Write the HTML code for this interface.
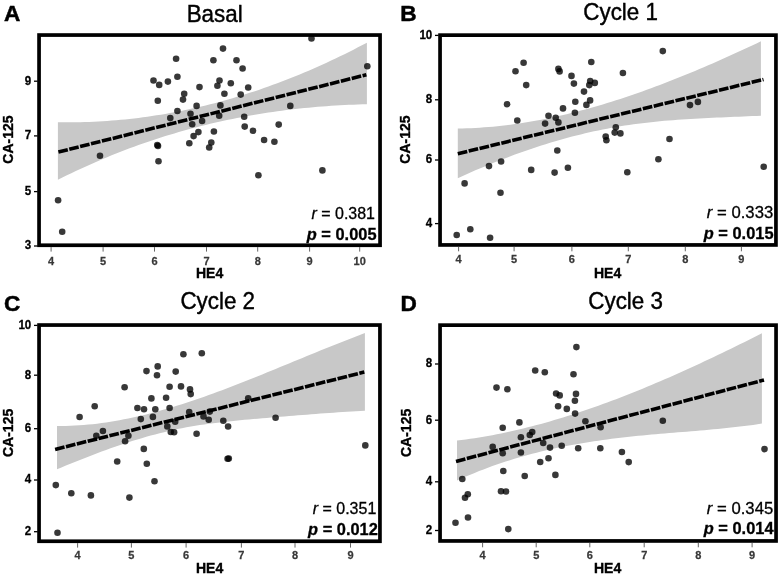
<!DOCTYPE html>
<html><head><meta charset="utf-8"><title>CA-125 vs HE4</title><style>
html,body{margin:0;padding:0;background:#fff;}
svg{display:block;filter:grayscale(100%);}
text{font-family:"Liberation Sans",sans-serif;}
.yt{font-size:11.6px;font-weight:bold;fill:#000;text-anchor:end;stroke:#000;stroke-width:0.25px;}
.xt{font-size:11px;font-weight:bold;fill:#383838;text-anchor:middle;stroke:#383838;stroke-width:0.25px;}
.yl{font-size:14px;font-weight:bold;fill:#000;text-anchor:middle;stroke:#000;stroke-width:0.35px;}
.xl{font-size:14px;font-weight:bold;fill:#000;text-anchor:middle;stroke:#000;stroke-width:0.35px;}
.ti{font-size:22.4px;fill:#000;text-anchor:middle;stroke:#000;stroke-width:0.4px;}
.le{font-size:22.6px;font-weight:bold;fill:#000;stroke:#000;stroke-width:0.5px;}
.rp{font-size:16px;fill:#000;text-anchor:end;stroke:#000;stroke-width:0.3px;}
</style></head>
<body><svg width="780" height="575" viewBox="0 0 780 575">
<rect width="780" height="575" fill="#fff"/>
<path d="M57.90,122.13 L62.38,122.20 L66.86,122.24 L71.33,122.24 L75.81,122.20 L80.29,122.13 L84.77,122.03 L89.25,121.88 L93.73,121.70 L98.20,121.48 L102.68,121.23 L107.16,120.94 L111.64,120.61 L116.12,120.25 L120.60,119.85 L125.07,119.42 L129.55,118.95 L134.03,118.44 L138.51,117.90 L142.99,117.32 L147.47,116.70 L151.94,116.05 L156.42,115.36 L160.90,114.64 L165.38,113.88 L169.86,113.08 L174.33,112.25 L178.81,111.38 L183.29,110.48 L187.77,109.54 L192.25,108.56 L196.73,107.55 L201.20,106.50 L205.68,105.42 L210.16,104.30 L214.64,103.15 L219.12,101.95 L223.60,100.73 L228.07,99.46 L232.55,98.17 L237.03,96.83 L241.51,95.46 L245.99,94.06 L250.47,92.62 L254.94,91.14 L259.42,89.63 L263.90,88.08 L268.38,86.49 L272.86,84.87 L277.33,83.22 L281.81,81.53 L286.29,79.80 L290.77,78.04 L295.25,76.24 L299.73,74.41 L304.20,72.54 L308.68,70.64 L313.16,68.70 L317.64,66.73 L322.12,64.72 L326.60,62.67 L331.07,60.59 L335.55,58.48 L340.03,56.33 L344.51,54.14 L348.99,51.92 L353.47,49.66 L357.94,47.37 L362.42,45.04 L366.90,42.68 L366.90,104.23 L362.42,104.34 L357.94,104.48 L353.47,104.64 L348.99,104.83 L344.51,105.04 L340.03,105.28 L335.55,105.54 L331.07,105.82 L326.60,106.13 L322.12,106.47 L317.64,106.83 L313.16,107.22 L308.68,107.63 L304.20,108.07 L299.73,108.54 L295.25,109.03 L290.77,109.56 L286.29,110.10 L281.81,110.68 L277.33,111.28 L272.86,111.92 L268.38,112.58 L263.90,113.27 L259.42,113.98 L254.94,114.73 L250.47,115.51 L245.99,116.31 L241.51,117.15 L237.03,118.01 L232.55,118.91 L228.07,119.83 L223.60,120.79 L219.12,121.78 L214.64,122.79 L210.16,123.84 L205.68,124.93 L201.20,126.04 L196.73,127.18 L192.25,128.36 L187.77,129.57 L183.29,130.81 L178.81,132.09 L174.33,133.40 L169.86,134.74 L165.38,136.12 L160.90,137.52 L156.42,138.97 L151.94,140.45 L147.47,141.96 L142.99,143.51 L138.51,145.09 L134.03,146.71 L129.55,148.36 L125.07,150.05 L120.60,151.78 L116.12,153.54 L111.64,155.34 L107.16,157.17 L102.68,159.04 L98.20,160.95 L93.73,162.90 L89.25,164.88 L84.77,166.90 L80.29,168.96 L75.81,171.06 L71.33,173.20 L66.86,175.37 L62.38,177.59 L57.90,179.84 Z" fill="#c8c8c8"/>
<circle cx="176.1" cy="58.8" r="3.3" fill="#000" fill-opacity="0.78"/>
<circle cx="223.0" cy="48.6" r="3.3" fill="#000" fill-opacity="0.78"/>
<circle cx="213.4" cy="60.2" r="3.3" fill="#000" fill-opacity="0.78"/>
<circle cx="236.5" cy="60.2" r="3.3" fill="#000" fill-opacity="0.78"/>
<circle cx="242.6" cy="68.5" r="3.3" fill="#000" fill-opacity="0.78"/>
<circle cx="153.5" cy="80.5" r="3.3" fill="#000" fill-opacity="0.78"/>
<circle cx="159.2" cy="84.9" r="3.3" fill="#000" fill-opacity="0.78"/>
<circle cx="167.9" cy="81.6" r="3.3" fill="#000" fill-opacity="0.78"/>
<circle cx="177.4" cy="76.7" r="3.3" fill="#000" fill-opacity="0.78"/>
<circle cx="219.5" cy="80.5" r="3.3" fill="#000" fill-opacity="0.78"/>
<circle cx="217.4" cy="85.7" r="3.3" fill="#000" fill-opacity="0.78"/>
<circle cx="230.8" cy="83.3" r="3.3" fill="#000" fill-opacity="0.78"/>
<circle cx="199.5" cy="87.1" r="3.3" fill="#000" fill-opacity="0.78"/>
<circle cx="248.2" cy="87.5" r="3.3" fill="#000" fill-opacity="0.78"/>
<circle cx="184.2" cy="93.7" r="3.3" fill="#000" fill-opacity="0.78"/>
<circle cx="183.0" cy="99.6" r="3.3" fill="#000" fill-opacity="0.78"/>
<circle cx="157.8" cy="100.7" r="3.3" fill="#000" fill-opacity="0.78"/>
<circle cx="224.4" cy="93.7" r="3.3" fill="#000" fill-opacity="0.78"/>
<circle cx="240.7" cy="94.6" r="3.3" fill="#000" fill-opacity="0.78"/>
<circle cx="196.6" cy="105.9" r="3.3" fill="#000" fill-opacity="0.78"/>
<circle cx="220.4" cy="105.4" r="3.3" fill="#000" fill-opacity="0.78"/>
<circle cx="177.4" cy="111.0" r="3.3" fill="#000" fill-opacity="0.78"/>
<circle cx="190.5" cy="113.7" r="3.3" fill="#000" fill-opacity="0.78"/>
<circle cx="170.3" cy="118.1" r="3.3" fill="#000" fill-opacity="0.78"/>
<circle cx="219.2" cy="115.8" r="3.3" fill="#000" fill-opacity="0.78"/>
<circle cx="202.1" cy="121.0" r="3.3" fill="#000" fill-opacity="0.78"/>
<circle cx="192.2" cy="124.2" r="3.3" fill="#000" fill-opacity="0.78"/>
<circle cx="244.2" cy="116.7" r="3.3" fill="#000" fill-opacity="0.78"/>
<circle cx="244.7" cy="126.6" r="3.3" fill="#000" fill-opacity="0.78"/>
<circle cx="253.0" cy="130.8" r="3.3" fill="#000" fill-opacity="0.78"/>
<circle cx="198.4" cy="132.1" r="3.3" fill="#000" fill-opacity="0.78"/>
<circle cx="213.9" cy="131.5" r="3.3" fill="#000" fill-opacity="0.78"/>
<circle cx="193.6" cy="136.1" r="3.3" fill="#000" fill-opacity="0.78"/>
<circle cx="189.3" cy="143.2" r="3.3" fill="#000" fill-opacity="0.78"/>
<circle cx="211.3" cy="142.5" r="3.3" fill="#000" fill-opacity="0.78"/>
<circle cx="209.2" cy="147.5" r="3.3" fill="#000" fill-opacity="0.78"/>
<circle cx="264.1" cy="140.0" r="3.3" fill="#000" fill-opacity="0.78"/>
<circle cx="274.4" cy="141.7" r="3.3" fill="#000" fill-opacity="0.78"/>
<circle cx="278.7" cy="124.6" r="3.3" fill="#000" fill-opacity="0.78"/>
<circle cx="258.4" cy="175.2" r="3.3" fill="#000" fill-opacity="0.78"/>
<circle cx="311.5" cy="38.5" r="3.3" fill="#000" fill-opacity="0.78"/>
<circle cx="367.3" cy="66.3" r="3.3" fill="#000" fill-opacity="0.78"/>
<circle cx="290.3" cy="105.9" r="3.3" fill="#000" fill-opacity="0.78"/>
<circle cx="322.4" cy="170.4" r="3.3" fill="#000" fill-opacity="0.78"/>
<circle cx="100.0" cy="155.7" r="3.3" fill="#000" fill-opacity="0.78"/>
<circle cx="157.3" cy="145.0" r="3.3" fill="#000" fill-opacity="0.78"/>
<circle cx="158.0" cy="146.0" r="3.3" fill="#000" fill-opacity="0.78"/>
<circle cx="158.5" cy="161.2" r="3.3" fill="#000" fill-opacity="0.78"/>
<circle cx="58.1" cy="200.2" r="3.3" fill="#000" fill-opacity="0.78"/>
<circle cx="62.2" cy="231.7" r="3.3" fill="#000" fill-opacity="0.78"/>
<line x1="58.4" y1="152.0" x2="366.4" y2="74.8" stroke="#000" stroke-width="3.6" stroke-dasharray="9.7,1.5" stroke-dashoffset="0"/>
<rect x="39.05" y="35.05" width="341.00" height="210.20" fill="none" stroke="#000" stroke-width="3.7"/>
<line x1="34.00" y1="81.2" x2="37.70" y2="81.2" stroke="#000" stroke-width="1.3"/>
<text transform="translate(31.30,84.60) scale(1,1.04)" class="yt">9</text>
<line x1="34.00" y1="135.9" x2="37.70" y2="135.9" stroke="#000" stroke-width="1.3"/>
<text transform="translate(31.30,139.30) scale(1,1.04)" class="yt">7</text>
<line x1="34.00" y1="191.6" x2="37.70" y2="191.6" stroke="#000" stroke-width="1.3"/>
<text transform="translate(31.30,195.00) scale(1,1.04)" class="yt">5</text>
<line x1="34.00" y1="246.0" x2="37.70" y2="246.0" stroke="#000" stroke-width="1.3"/>
<text transform="translate(31.30,249.40) scale(1,1.04)" class="yt">3</text>
<line x1="51.1" y1="247.10" x2="51.1" y2="251.60" stroke="#555" stroke-width="0.9"/>
<text transform="translate(51.10,264.70) scale(1,1.04)" class="xt">4</text>
<line x1="103.1" y1="247.10" x2="103.1" y2="251.60" stroke="#555" stroke-width="0.9"/>
<text transform="translate(103.10,264.70) scale(1,1.04)" class="xt">5</text>
<line x1="154.5" y1="247.10" x2="154.5" y2="251.60" stroke="#555" stroke-width="0.9"/>
<text transform="translate(154.50,264.70) scale(1,1.04)" class="xt">6</text>
<line x1="206.5" y1="247.10" x2="206.5" y2="251.60" stroke="#555" stroke-width="0.9"/>
<text transform="translate(206.50,264.70) scale(1,1.04)" class="xt">7</text>
<line x1="257.7" y1="247.10" x2="257.7" y2="251.60" stroke="#555" stroke-width="0.9"/>
<text transform="translate(257.70,264.70) scale(1,1.04)" class="xt">8</text>
<line x1="309.6" y1="247.10" x2="309.6" y2="251.60" stroke="#555" stroke-width="0.9"/>
<text transform="translate(309.60,264.70) scale(1,1.04)" class="xt">9</text>
<line x1="359.7" y1="247.10" x2="359.7" y2="251.60" stroke="#555" stroke-width="0.9"/>
<text transform="translate(359.70,264.70) scale(1,1.04)" class="xt">10</text>
<text transform="translate(12.80,139.60) rotate(-90) scale(1,1.08)" class="yl">CA-125</text>
<text transform="translate(209.60,277.90) scale(1,1.04)" class="xl">HE4</text>
<text transform="translate(214.70,21.70) scale(1,1.04)" class="ti">Basal</text>
<text transform="translate(3.90,21.20) scale(1,1.0)" class="le">A</text>
<text transform="translate(375.00,219.40) scale(1,1.035)" class="rp" style="font-size:16px"><tspan font-style="italic">r</tspan> = 0.381</text>
<text transform="translate(376.50,240.40) scale(1,1.035)" class="rp" style="font-weight:bold;font-size:16.4px"><tspan font-style="italic">p</tspan> = 0.005</text>
<path d="M457.80,128.55 L462.19,128.47 L466.59,128.34 L470.98,128.16 L475.37,127.94 L479.76,127.68 L484.16,127.37 L488.55,127.03 L492.94,126.63 L497.33,126.20 L501.73,125.72 L506.12,125.21 L510.51,124.65 L514.91,124.05 L519.30,123.42 L523.69,122.74 L528.08,122.02 L532.48,121.27 L536.87,120.48 L541.26,119.65 L545.66,118.79 L550.05,117.89 L554.44,116.95 L558.83,115.98 L563.23,114.97 L567.62,113.93 L572.01,112.85 L576.40,111.75 L580.80,110.60 L585.19,109.43 L589.58,108.22 L593.98,106.99 L598.37,105.72 L602.76,104.42 L607.15,103.09 L611.55,101.73 L615.94,100.34 L620.33,98.93 L624.72,97.48 L629.12,96.01 L633.51,94.51 L637.90,92.98 L642.30,91.43 L646.69,89.85 L651.08,88.25 L655.47,86.62 L659.87,84.97 L664.26,83.29 L668.65,81.59 L673.04,79.87 L677.44,78.12 L681.83,76.35 L686.22,74.57 L690.62,72.76 L695.01,70.93 L699.40,69.07 L703.79,67.20 L708.19,65.32 L712.58,63.41 L716.97,61.48 L721.37,59.54 L725.76,57.58 L730.15,55.60 L734.54,53.61 L738.94,51.60 L743.33,49.58 L747.72,47.54 L752.11,45.48 L756.51,43.42 L760.90,41.34 L760.90,115.73 L756.51,115.93 L752.11,116.12 L747.72,116.30 L743.33,116.49 L738.94,116.67 L734.54,116.85 L730.15,117.03 L725.76,117.21 L721.37,117.40 L716.97,117.59 L712.58,117.79 L708.19,118.00 L703.79,118.21 L699.40,118.44 L695.01,118.68 L690.62,118.94 L686.22,119.21 L681.83,119.50 L677.44,119.81 L673.04,120.14 L668.65,120.50 L664.26,120.87 L659.87,121.27 L655.47,121.70 L651.08,122.16 L646.69,122.65 L642.30,123.17 L637.90,123.72 L633.51,124.31 L629.12,124.93 L624.72,125.59 L620.33,126.29 L615.94,127.03 L611.55,127.81 L607.15,128.63 L602.76,129.50 L598.37,130.40 L593.98,131.34 L589.58,132.32 L585.19,133.34 L580.80,134.39 L576.40,135.49 L572.01,136.62 L567.62,137.79 L563.23,139.00 L558.83,140.24 L554.44,141.52 L550.05,142.83 L545.66,144.18 L541.26,145.57 L536.87,146.99 L532.48,148.44 L528.08,149.93 L523.69,151.46 L519.30,153.01 L514.91,154.60 L510.51,156.23 L506.12,157.88 L501.73,159.57 L497.33,161.29 L492.94,163.04 L488.55,164.82 L484.16,166.63 L479.76,168.48 L475.37,170.35 L470.98,172.25 L466.59,174.18 L462.19,176.15 L457.80,178.14 Z" fill="#c8c8c8"/>
<circle cx="523.6" cy="62.7" r="3.3" fill="#000" fill-opacity="0.78"/>
<circle cx="515.5" cy="71.2" r="3.3" fill="#000" fill-opacity="0.78"/>
<circle cx="526.2" cy="85.1" r="3.3" fill="#000" fill-opacity="0.78"/>
<circle cx="558.4" cy="68.9" r="3.3" fill="#000" fill-opacity="0.78"/>
<circle cx="559.6" cy="71.4" r="3.3" fill="#000" fill-opacity="0.78"/>
<circle cx="507.1" cy="104.2" r="3.3" fill="#000" fill-opacity="0.78"/>
<circle cx="517.3" cy="120.5" r="3.3" fill="#000" fill-opacity="0.78"/>
<circle cx="563.0" cy="108.4" r="3.3" fill="#000" fill-opacity="0.78"/>
<circle cx="548.5" cy="115.8" r="3.3" fill="#000" fill-opacity="0.78"/>
<circle cx="555.7" cy="117.8" r="3.3" fill="#000" fill-opacity="0.78"/>
<circle cx="558.4" cy="122.4" r="3.3" fill="#000" fill-opacity="0.78"/>
<circle cx="545.1" cy="123.6" r="3.3" fill="#000" fill-opacity="0.78"/>
<circle cx="662.8" cy="51.1" r="3.3" fill="#000" fill-opacity="0.78"/>
<circle cx="591.3" cy="62.0" r="3.3" fill="#000" fill-opacity="0.78"/>
<circle cx="622.9" cy="73.0" r="3.3" fill="#000" fill-opacity="0.78"/>
<circle cx="571.5" cy="75.9" r="3.3" fill="#000" fill-opacity="0.78"/>
<circle cx="573.9" cy="83.6" r="3.3" fill="#000" fill-opacity="0.78"/>
<circle cx="590.2" cy="81.0" r="3.3" fill="#000" fill-opacity="0.78"/>
<circle cx="594.8" cy="82.9" r="3.3" fill="#000" fill-opacity="0.78"/>
<circle cx="589.3" cy="85.1" r="3.3" fill="#000" fill-opacity="0.78"/>
<circle cx="584.0" cy="91.6" r="3.3" fill="#000" fill-opacity="0.78"/>
<circle cx="575.3" cy="101.8" r="3.3" fill="#000" fill-opacity="0.78"/>
<circle cx="590.1" cy="100.4" r="3.3" fill="#000" fill-opacity="0.78"/>
<circle cx="586.4" cy="104.9" r="3.3" fill="#000" fill-opacity="0.78"/>
<circle cx="574.9" cy="112.8" r="3.3" fill="#000" fill-opacity="0.78"/>
<circle cx="615.8" cy="127.2" r="3.3" fill="#000" fill-opacity="0.78"/>
<circle cx="614.7" cy="132.6" r="3.3" fill="#000" fill-opacity="0.78"/>
<circle cx="620.4" cy="133.4" r="3.3" fill="#000" fill-opacity="0.78"/>
<circle cx="605.7" cy="136.6" r="3.3" fill="#000" fill-opacity="0.78"/>
<circle cx="606.4" cy="140.2" r="3.3" fill="#000" fill-opacity="0.78"/>
<circle cx="690.0" cy="105.1" r="3.3" fill="#000" fill-opacity="0.78"/>
<circle cx="697.9" cy="101.9" r="3.3" fill="#000" fill-opacity="0.78"/>
<circle cx="669.5" cy="139.0" r="3.3" fill="#000" fill-opacity="0.78"/>
<circle cx="658.4" cy="159.2" r="3.3" fill="#000" fill-opacity="0.78"/>
<circle cx="763.7" cy="166.7" r="3.3" fill="#000" fill-opacity="0.78"/>
<circle cx="557.3" cy="150.5" r="3.3" fill="#000" fill-opacity="0.78"/>
<circle cx="489.0" cy="166.1" r="3.3" fill="#000" fill-opacity="0.78"/>
<circle cx="501.1" cy="161.5" r="3.3" fill="#000" fill-opacity="0.78"/>
<circle cx="531.2" cy="169.9" r="3.3" fill="#000" fill-opacity="0.78"/>
<circle cx="554.6" cy="172.6" r="3.3" fill="#000" fill-opacity="0.78"/>
<circle cx="567.9" cy="167.8" r="3.3" fill="#000" fill-opacity="0.78"/>
<circle cx="464.6" cy="183.4" r="3.3" fill="#000" fill-opacity="0.78"/>
<circle cx="500.5" cy="192.8" r="3.3" fill="#000" fill-opacity="0.78"/>
<circle cx="470.3" cy="229.3" r="3.3" fill="#000" fill-opacity="0.78"/>
<circle cx="456.7" cy="235.0" r="3.3" fill="#000" fill-opacity="0.78"/>
<circle cx="490.1" cy="237.7" r="3.3" fill="#000" fill-opacity="0.78"/>
<circle cx="627.3" cy="172.2" r="3.3" fill="#000" fill-opacity="0.78"/>
<line x1="457.8" y1="153.7" x2="763.5" y2="79.5" stroke="#000" stroke-width="3.6" stroke-dasharray="9.7,1.5" stroke-dashoffset="0"/>
<rect x="440.05" y="35.15" width="335.90" height="209.80" fill="none" stroke="#000" stroke-width="3.7"/>
<line x1="435.00" y1="35.4" x2="438.70" y2="35.4" stroke="#000" stroke-width="1.3"/>
<text transform="translate(432.30,38.80) scale(1,1.04)" class="yt">10</text>
<line x1="435.00" y1="99.8" x2="438.70" y2="99.8" stroke="#000" stroke-width="1.3"/>
<text transform="translate(432.30,103.20) scale(1,1.04)" class="yt">8</text>
<line x1="435.00" y1="160.0" x2="438.70" y2="160.0" stroke="#000" stroke-width="1.3"/>
<text transform="translate(432.30,163.40) scale(1,1.04)" class="yt">6</text>
<line x1="435.00" y1="223.6" x2="438.70" y2="223.6" stroke="#000" stroke-width="1.3"/>
<text transform="translate(432.30,227.00) scale(1,1.04)" class="yt">4</text>
<line x1="458.6" y1="246.80" x2="458.6" y2="251.30" stroke="#555" stroke-width="0.9"/>
<text transform="translate(458.60,263.40) scale(1,1.04)" class="xt">4</text>
<line x1="514.1" y1="246.80" x2="514.1" y2="251.30" stroke="#555" stroke-width="0.9"/>
<text transform="translate(514.10,263.40) scale(1,1.04)" class="xt">5</text>
<line x1="571.9" y1="246.80" x2="571.9" y2="251.30" stroke="#555" stroke-width="0.9"/>
<text transform="translate(571.90,263.40) scale(1,1.04)" class="xt">6</text>
<line x1="628.3" y1="246.80" x2="628.3" y2="251.30" stroke="#555" stroke-width="0.9"/>
<text transform="translate(628.30,263.40) scale(1,1.04)" class="xt">7</text>
<line x1="685.3" y1="246.80" x2="685.3" y2="251.30" stroke="#555" stroke-width="0.9"/>
<text transform="translate(685.30,263.40) scale(1,1.04)" class="xt">8</text>
<line x1="741.4" y1="246.80" x2="741.4" y2="251.30" stroke="#555" stroke-width="0.9"/>
<text transform="translate(741.40,263.40) scale(1,1.04)" class="xt">9</text>
<text transform="translate(409.70,139.60) rotate(-90) scale(1,1.08)" class="yl">CA-125</text>
<text transform="translate(607.60,277.90) scale(1,1.04)" class="xl">HE4</text>
<text transform="translate(620.60,19.70) scale(1,1.04)" class="ti">Cycle 1</text>
<text transform="translate(400.30,21.40) scale(1,1.0)" class="le">B</text>
<text transform="translate(773.20,217.60) scale(1,1.035)" class="rp" style="font-size:16.7px"><tspan font-style="italic">r</tspan> = 0.333</text>
<text transform="translate(773.50,238.70) scale(1,1.035)" class="rp" style="font-weight:bold;font-size:16.4px"><tspan font-style="italic">p</tspan> = 0.015</text>
<path d="M57.00,425.94 L61.46,425.95 L65.92,425.89 L70.39,425.77 L74.85,425.57 L79.31,425.31 L83.77,424.98 L88.24,424.59 L92.70,424.14 L97.16,423.63 L101.62,423.06 L106.09,422.43 L110.55,421.74 L115.01,421.00 L119.47,420.21 L123.93,419.36 L128.40,418.46 L132.86,417.51 L137.32,416.51 L141.78,415.47 L146.25,414.38 L150.71,413.24 L155.17,412.06 L159.63,410.84 L164.10,409.58 L168.56,408.28 L173.02,406.95 L177.48,405.57 L181.94,404.17 L186.41,402.72 L190.87,401.25 L195.33,399.75 L199.79,398.21 L204.26,396.65 L208.72,395.06 L213.18,393.44 L217.64,391.81 L222.11,390.14 L226.57,388.46 L231.03,386.76 L235.49,385.04 L239.96,383.30 L244.42,381.54 L248.88,379.77 L253.34,377.99 L257.80,376.19 L262.27,374.39 L266.73,372.58 L271.19,370.75 L275.65,368.92 L280.12,367.09 L284.58,365.25 L289.04,363.41 L293.50,361.57 L297.97,359.73 L302.43,357.89 L306.89,356.06 L311.35,354.22 L315.81,352.40 L320.28,350.58 L324.74,348.77 L329.20,346.97 L333.66,345.18 L338.13,343.40 L342.59,341.64 L347.05,339.89 L351.51,338.16 L355.98,336.45 L360.44,334.75 L364.90,333.08 L364.90,410.65 L360.44,410.92 L355.98,411.19 L351.51,411.47 L347.05,411.76 L342.59,412.06 L338.13,412.36 L333.66,412.66 L329.20,412.98 L324.74,413.30 L320.28,413.62 L315.81,413.96 L311.35,414.29 L306.89,414.63 L302.43,414.98 L297.97,415.33 L293.50,415.69 L289.04,416.05 L284.58,416.41 L280.12,416.78 L275.65,417.15 L271.19,417.53 L266.73,417.91 L262.27,418.29 L257.80,418.67 L253.34,419.06 L248.88,419.46 L244.42,419.86 L239.96,420.28 L235.49,420.72 L231.03,421.17 L226.57,421.64 L222.11,422.14 L217.64,422.67 L213.18,423.22 L208.72,423.81 L204.26,424.44 L199.79,425.10 L195.33,425.81 L190.87,426.56 L186.41,427.36 L181.94,428.21 L177.48,429.11 L173.02,430.06 L168.56,431.07 L164.10,432.13 L159.63,433.24 L155.17,434.40 L150.71,435.60 L146.25,436.85 L141.78,438.15 L137.32,439.48 L132.86,440.86 L128.40,442.28 L123.93,443.74 L119.47,445.23 L115.01,446.76 L110.55,448.33 L106.09,449.93 L101.62,451.56 L97.16,453.22 L92.70,454.91 L88.24,456.63 L83.77,458.38 L79.31,460.15 L74.85,461.94 L70.39,463.76 L65.92,465.59 L61.46,467.45 L57.00,469.33 Z" fill="#c8c8c8"/>
<circle cx="157.7" cy="366.4" r="3.3" fill="#000" fill-opacity="0.78"/>
<circle cx="146.5" cy="371.1" r="3.3" fill="#000" fill-opacity="0.78"/>
<circle cx="157.0" cy="375.3" r="3.3" fill="#000" fill-opacity="0.78"/>
<circle cx="124.6" cy="387.3" r="3.3" fill="#000" fill-opacity="0.78"/>
<circle cx="169.6" cy="386.8" r="3.3" fill="#000" fill-opacity="0.78"/>
<circle cx="181.0" cy="386.4" r="3.3" fill="#000" fill-opacity="0.78"/>
<circle cx="190.0" cy="389.4" r="3.3" fill="#000" fill-opacity="0.78"/>
<circle cx="190.7" cy="394.1" r="3.3" fill="#000" fill-opacity="0.78"/>
<circle cx="151.4" cy="398.4" r="3.3" fill="#000" fill-opacity="0.78"/>
<circle cx="166.1" cy="397.8" r="3.3" fill="#000" fill-opacity="0.78"/>
<circle cx="94.7" cy="406.3" r="3.3" fill="#000" fill-opacity="0.78"/>
<circle cx="137.4" cy="408.0" r="3.3" fill="#000" fill-opacity="0.78"/>
<circle cx="144.0" cy="409.2" r="3.3" fill="#000" fill-opacity="0.78"/>
<circle cx="155.3" cy="409.3" r="3.3" fill="#000" fill-opacity="0.78"/>
<circle cx="169.6" cy="408.0" r="3.3" fill="#000" fill-opacity="0.78"/>
<circle cx="79.6" cy="417.0" r="3.3" fill="#000" fill-opacity="0.78"/>
<circle cx="140.8" cy="419.1" r="3.3" fill="#000" fill-opacity="0.78"/>
<circle cx="152.9" cy="416.9" r="3.3" fill="#000" fill-opacity="0.78"/>
<circle cx="183.4" cy="354.2" r="3.3" fill="#000" fill-opacity="0.78"/>
<circle cx="201.8" cy="353.3" r="3.3" fill="#000" fill-opacity="0.78"/>
<circle cx="175.7" cy="371.6" r="3.3" fill="#000" fill-opacity="0.78"/>
<circle cx="189.2" cy="412.1" r="3.3" fill="#000" fill-opacity="0.78"/>
<circle cx="209.8" cy="411.6" r="3.3" fill="#000" fill-opacity="0.78"/>
<circle cx="203.5" cy="416.4" r="3.3" fill="#000" fill-opacity="0.78"/>
<circle cx="208.7" cy="419.8" r="3.3" fill="#000" fill-opacity="0.78"/>
<circle cx="175.2" cy="421.7" r="3.3" fill="#000" fill-opacity="0.78"/>
<circle cx="167.3" cy="426.4" r="3.3" fill="#000" fill-opacity="0.78"/>
<circle cx="170.8" cy="432.0" r="3.3" fill="#000" fill-opacity="0.78"/>
<circle cx="174.1" cy="432.3" r="3.3" fill="#000" fill-opacity="0.78"/>
<circle cx="196.6" cy="433.8" r="3.3" fill="#000" fill-opacity="0.78"/>
<circle cx="223.3" cy="420.8" r="3.3" fill="#000" fill-opacity="0.78"/>
<circle cx="228.1" cy="426.5" r="3.3" fill="#000" fill-opacity="0.78"/>
<circle cx="248.2" cy="398.3" r="3.3" fill="#000" fill-opacity="0.78"/>
<circle cx="275.6" cy="417.7" r="3.3" fill="#000" fill-opacity="0.78"/>
<circle cx="102.9" cy="431.0" r="3.3" fill="#000" fill-opacity="0.78"/>
<circle cx="96.3" cy="435.8" r="3.3" fill="#000" fill-opacity="0.78"/>
<circle cx="128.4" cy="435.7" r="3.3" fill="#000" fill-opacity="0.78"/>
<circle cx="125.1" cy="441.3" r="3.3" fill="#000" fill-opacity="0.78"/>
<circle cx="143.8" cy="448.9" r="3.3" fill="#000" fill-opacity="0.78"/>
<circle cx="117.2" cy="461.5" r="3.3" fill="#000" fill-opacity="0.78"/>
<circle cx="146.8" cy="463.7" r="3.3" fill="#000" fill-opacity="0.78"/>
<circle cx="154.5" cy="481.3" r="3.3" fill="#000" fill-opacity="0.78"/>
<circle cx="55.8" cy="485.1" r="3.3" fill="#000" fill-opacity="0.78"/>
<circle cx="71.3" cy="493.3" r="3.3" fill="#000" fill-opacity="0.78"/>
<circle cx="90.9" cy="495.4" r="3.3" fill="#000" fill-opacity="0.78"/>
<circle cx="129.4" cy="497.6" r="3.3" fill="#000" fill-opacity="0.78"/>
<circle cx="57.5" cy="532.7" r="3.3" fill="#000" fill-opacity="0.78"/>
<circle cx="227.6" cy="458.7" r="3.3" fill="#000" fill-opacity="0.78"/>
<circle cx="228.8" cy="458.6" r="3.3" fill="#000" fill-opacity="0.78"/>
<circle cx="365.3" cy="445.4" r="3.3" fill="#000" fill-opacity="0.78"/>
<line x1="55.1" y1="449.4" x2="364.3" y2="372.1" stroke="#000" stroke-width="3.6" stroke-dasharray="9.7,1.5" stroke-dashoffset="0"/>
<rect x="39.05" y="325.05" width="340.90" height="216.20" fill="none" stroke="#000" stroke-width="3.7"/>
<line x1="34.00" y1="325.4" x2="37.70" y2="325.4" stroke="#000" stroke-width="1.3"/>
<text transform="translate(31.30,328.80) scale(1,1.04)" class="yt">10</text>
<line x1="34.00" y1="375.2" x2="37.70" y2="375.2" stroke="#000" stroke-width="1.3"/>
<text transform="translate(31.30,378.60) scale(1,1.04)" class="yt">8</text>
<line x1="34.00" y1="428.7" x2="37.70" y2="428.7" stroke="#000" stroke-width="1.3"/>
<text transform="translate(31.30,432.10) scale(1,1.04)" class="yt">6</text>
<line x1="34.00" y1="480.0" x2="37.70" y2="480.0" stroke="#000" stroke-width="1.3"/>
<text transform="translate(31.30,483.40) scale(1,1.04)" class="yt">4</text>
<line x1="34.00" y1="531.7" x2="37.70" y2="531.7" stroke="#000" stroke-width="1.3"/>
<text transform="translate(31.30,535.10) scale(1,1.04)" class="yt">2</text>
<line x1="77.6" y1="543.10" x2="77.6" y2="547.60" stroke="#555" stroke-width="0.9"/>
<text transform="translate(77.60,559.00) scale(1,1.04)" class="xt">4</text>
<line x1="131.4" y1="543.10" x2="131.4" y2="547.60" stroke="#555" stroke-width="0.9"/>
<text transform="translate(131.40,559.00) scale(1,1.04)" class="xt">5</text>
<line x1="186.1" y1="543.10" x2="186.1" y2="547.60" stroke="#555" stroke-width="0.9"/>
<text transform="translate(186.10,559.00) scale(1,1.04)" class="xt">6</text>
<line x1="241.4" y1="543.10" x2="241.4" y2="547.60" stroke="#555" stroke-width="0.9"/>
<text transform="translate(241.40,559.00) scale(1,1.04)" class="xt">7</text>
<line x1="295.0" y1="543.10" x2="295.0" y2="547.60" stroke="#555" stroke-width="0.9"/>
<text transform="translate(295.00,559.00) scale(1,1.04)" class="xt">8</text>
<line x1="350.5" y1="543.10" x2="350.5" y2="547.60" stroke="#555" stroke-width="0.9"/>
<text transform="translate(350.50,559.00) scale(1,1.04)" class="xt">9</text>
<text transform="translate(12.80,432.90) rotate(-90) scale(1,1.08)" class="yl">CA-125</text>
<text transform="translate(209.60,573.30) scale(1,1.04)" class="xl">HE4</text>
<text transform="translate(217.70,308.80) scale(1,1.04)" class="ti">Cycle 2</text>
<text transform="translate(3.90,310.70) scale(1,1.0)" class="le">C</text>
<text transform="translate(376.30,514.00) scale(1,1.035)" class="rp" style="font-size:16px"><tspan font-style="italic">r</tspan> = 0.351</text>
<text transform="translate(377.80,534.70) scale(1,1.035)" class="rp" style="font-weight:bold;font-size:16.4px"><tspan font-style="italic">p</tspan> = 0.012</text>
<path d="M457.00,440.62 L461.42,440.08 L465.84,439.49 L470.26,438.87 L474.68,438.20 L479.09,437.50 L483.51,436.76 L487.93,435.98 L492.35,435.17 L496.77,434.32 L501.19,433.43 L505.61,432.51 L510.03,431.55 L514.44,430.55 L518.86,429.53 L523.28,428.47 L527.70,427.37 L532.12,426.24 L536.54,425.08 L540.96,423.89 L545.38,422.66 L549.80,421.41 L554.21,420.12 L558.63,418.81 L563.05,417.46 L567.47,416.08 L571.89,414.68 L576.31,413.24 L580.73,411.78 L585.15,410.30 L589.57,408.78 L593.98,407.24 L598.40,405.67 L602.82,404.07 L607.24,402.45 L611.66,400.81 L616.08,399.14 L620.50,397.45 L624.92,395.73 L629.33,393.99 L633.75,392.23 L638.17,390.45 L642.59,388.64 L647.01,386.81 L651.43,384.97 L655.85,383.10 L660.27,381.21 L664.69,379.30 L669.10,377.38 L673.52,375.43 L677.94,373.47 L682.36,371.49 L686.78,369.50 L691.20,367.48 L695.62,365.45 L700.04,363.41 L704.46,361.35 L708.87,359.27 L713.29,357.18 L717.71,355.08 L722.13,352.96 L726.55,350.83 L730.97,348.68 L735.39,346.53 L739.81,344.36 L744.22,342.18 L748.64,340.00 L753.06,337.80 L757.48,335.59 L761.90,333.37 L761.90,423.61 L757.48,424.28 L753.06,424.90 L748.64,425.50 L744.22,426.07 L739.81,426.61 L735.39,427.12 L730.97,427.61 L726.55,428.08 L722.13,428.53 L717.71,428.96 L713.29,429.37 L708.87,429.77 L704.46,430.16 L700.04,430.54 L695.62,430.91 L691.20,431.27 L686.78,431.63 L682.36,431.98 L677.94,432.34 L673.52,432.69 L669.10,433.05 L664.69,433.42 L660.27,433.79 L655.85,434.17 L651.43,434.56 L647.01,434.97 L642.59,435.39 L638.17,435.83 L633.75,436.28 L629.33,436.75 L624.92,437.24 L620.50,437.75 L616.08,438.28 L611.66,438.83 L607.24,439.41 L602.82,440.01 L598.40,440.63 L593.98,441.28 L589.57,441.96 L585.15,442.67 L580.73,443.41 L576.31,444.18 L571.89,444.98 L567.47,445.81 L563.05,446.68 L558.63,447.58 L554.21,448.52 L549.80,449.50 L545.38,450.51 L540.96,451.57 L536.54,452.66 L532.12,453.80 L527.70,454.98 L523.28,456.20 L518.86,457.47 L514.44,458.79 L510.03,460.15 L505.61,461.56 L501.19,463.02 L496.77,464.54 L492.35,466.10 L487.93,467.71 L483.51,469.38 L479.09,471.11 L474.68,472.89 L470.26,474.73 L465.84,476.62 L461.42,478.58 L457.00,480.59 Z" fill="#c8c8c8"/>
<circle cx="535.2" cy="370.5" r="3.3" fill="#000" fill-opacity="0.78"/>
<circle cx="544.8" cy="372.3" r="3.3" fill="#000" fill-opacity="0.78"/>
<circle cx="496.5" cy="387.6" r="3.3" fill="#000" fill-opacity="0.78"/>
<circle cx="507.4" cy="389.2" r="3.3" fill="#000" fill-opacity="0.78"/>
<circle cx="556.1" cy="393.5" r="3.3" fill="#000" fill-opacity="0.78"/>
<circle cx="559.7" cy="395.4" r="3.3" fill="#000" fill-opacity="0.78"/>
<circle cx="558.1" cy="406.3" r="3.3" fill="#000" fill-opacity="0.78"/>
<circle cx="566.8" cy="408.9" r="3.3" fill="#000" fill-opacity="0.78"/>
<circle cx="519.4" cy="422.4" r="3.3" fill="#000" fill-opacity="0.78"/>
<circle cx="576.4" cy="347.1" r="3.3" fill="#000" fill-opacity="0.78"/>
<circle cx="573.5" cy="374.2" r="3.3" fill="#000" fill-opacity="0.78"/>
<circle cx="576.0" cy="393.9" r="3.3" fill="#000" fill-opacity="0.78"/>
<circle cx="574.9" cy="400.8" r="3.3" fill="#000" fill-opacity="0.78"/>
<circle cx="575.1" cy="413.6" r="3.3" fill="#000" fill-opacity="0.78"/>
<circle cx="585.4" cy="421.2" r="3.3" fill="#000" fill-opacity="0.78"/>
<circle cx="662.8" cy="420.7" r="3.3" fill="#000" fill-opacity="0.78"/>
<circle cx="502.7" cy="427.8" r="3.3" fill="#000" fill-opacity="0.78"/>
<circle cx="520.9" cy="437.2" r="3.3" fill="#000" fill-opacity="0.78"/>
<circle cx="529.8" cy="435.0" r="3.3" fill="#000" fill-opacity="0.78"/>
<circle cx="532.2" cy="432.0" r="3.3" fill="#000" fill-opacity="0.78"/>
<circle cx="492.7" cy="446.9" r="3.3" fill="#000" fill-opacity="0.78"/>
<circle cx="502.7" cy="453.3" r="3.3" fill="#000" fill-opacity="0.78"/>
<circle cx="520.9" cy="452.5" r="3.3" fill="#000" fill-opacity="0.78"/>
<circle cx="543.2" cy="443.0" r="3.3" fill="#000" fill-opacity="0.78"/>
<circle cx="550.0" cy="447.6" r="3.3" fill="#000" fill-opacity="0.78"/>
<circle cx="561.7" cy="445.8" r="3.3" fill="#000" fill-opacity="0.78"/>
<circle cx="540.2" cy="462.0" r="3.3" fill="#000" fill-opacity="0.78"/>
<circle cx="548.5" cy="458.3" r="3.3" fill="#000" fill-opacity="0.78"/>
<circle cx="503.3" cy="471.0" r="3.3" fill="#000" fill-opacity="0.78"/>
<circle cx="524.7" cy="476.0" r="3.3" fill="#000" fill-opacity="0.78"/>
<circle cx="555.4" cy="474.9" r="3.3" fill="#000" fill-opacity="0.78"/>
<circle cx="462.3" cy="479.0" r="3.3" fill="#000" fill-opacity="0.78"/>
<circle cx="467.8" cy="494.2" r="3.3" fill="#000" fill-opacity="0.78"/>
<circle cx="465.0" cy="497.7" r="3.3" fill="#000" fill-opacity="0.78"/>
<circle cx="501.0" cy="491.3" r="3.3" fill="#000" fill-opacity="0.78"/>
<circle cx="506.0" cy="491.5" r="3.3" fill="#000" fill-opacity="0.78"/>
<circle cx="468.0" cy="517.5" r="3.3" fill="#000" fill-opacity="0.78"/>
<circle cx="455.5" cy="522.7" r="3.3" fill="#000" fill-opacity="0.78"/>
<circle cx="508.3" cy="529.1" r="3.3" fill="#000" fill-opacity="0.78"/>
<circle cx="600.6" cy="427.3" r="3.3" fill="#000" fill-opacity="0.78"/>
<circle cx="578.2" cy="448.2" r="3.3" fill="#000" fill-opacity="0.78"/>
<circle cx="600.3" cy="448.3" r="3.3" fill="#000" fill-opacity="0.78"/>
<circle cx="621.9" cy="452.0" r="3.3" fill="#000" fill-opacity="0.78"/>
<circle cx="628.7" cy="462.1" r="3.3" fill="#000" fill-opacity="0.78"/>
<circle cx="764.5" cy="449.1" r="3.3" fill="#000" fill-opacity="0.78"/>
<line x1="456.0" y1="461.4" x2="764.0" y2="380.0" stroke="#000" stroke-width="3.6" stroke-dasharray="9.7,1.5" stroke-dashoffset="0"/>
<rect x="440.05" y="325.15" width="336.00" height="215.80" fill="none" stroke="#000" stroke-width="3.7"/>
<line x1="435.00" y1="364.0" x2="438.70" y2="364.0" stroke="#000" stroke-width="1.3"/>
<text transform="translate(432.30,367.40) scale(1,1.04)" class="yt">8</text>
<line x1="435.00" y1="420.2" x2="438.70" y2="420.2" stroke="#000" stroke-width="1.3"/>
<text transform="translate(432.30,423.60) scale(1,1.04)" class="yt">6</text>
<line x1="435.00" y1="481.8" x2="438.70" y2="481.8" stroke="#000" stroke-width="1.3"/>
<text transform="translate(432.30,485.20) scale(1,1.04)" class="yt">4</text>
<line x1="435.00" y1="530.5" x2="438.70" y2="530.5" stroke="#000" stroke-width="1.3"/>
<text transform="translate(432.30,533.90) scale(1,1.04)" class="yt">2</text>
<line x1="482.6" y1="542.80" x2="482.6" y2="547.30" stroke="#555" stroke-width="0.9"/>
<text transform="translate(482.60,559.10) scale(1,1.04)" class="xt">4</text>
<line x1="536.2" y1="542.80" x2="536.2" y2="547.30" stroke="#555" stroke-width="0.9"/>
<text transform="translate(536.20,559.10) scale(1,1.04)" class="xt">5</text>
<line x1="589.8" y1="542.80" x2="589.8" y2="547.30" stroke="#555" stroke-width="0.9"/>
<text transform="translate(589.80,559.10) scale(1,1.04)" class="xt">6</text>
<line x1="644.2" y1="542.80" x2="644.2" y2="547.30" stroke="#555" stroke-width="0.9"/>
<text transform="translate(644.20,559.10) scale(1,1.04)" class="xt">7</text>
<line x1="698.3" y1="542.80" x2="698.3" y2="547.30" stroke="#555" stroke-width="0.9"/>
<text transform="translate(698.30,559.10) scale(1,1.04)" class="xt">8</text>
<line x1="752.1" y1="542.80" x2="752.1" y2="547.30" stroke="#555" stroke-width="0.9"/>
<text transform="translate(752.10,559.10) scale(1,1.04)" class="xt">9</text>
<text transform="translate(411.20,432.90) rotate(-90) scale(1,1.08)" class="yl">CA-125</text>
<text transform="translate(607.60,573.30) scale(1,1.04)" class="xl">HE4</text>
<text transform="translate(625.60,308.80) scale(1,1.04)" class="ti">Cycle 3</text>
<text transform="translate(400.40,310.50) scale(1,1.0)" class="le">D</text>
<text transform="translate(773.20,513.70) scale(1,1.035)" class="rp" style="font-size:16.7px"><tspan font-style="italic">r</tspan> = 0.345</text>
<text transform="translate(773.50,534.40) scale(1,1.035)" class="rp" style="font-weight:bold;font-size:16.4px"><tspan font-style="italic">p</tspan> = 0.014</text>
</svg></body></html>
